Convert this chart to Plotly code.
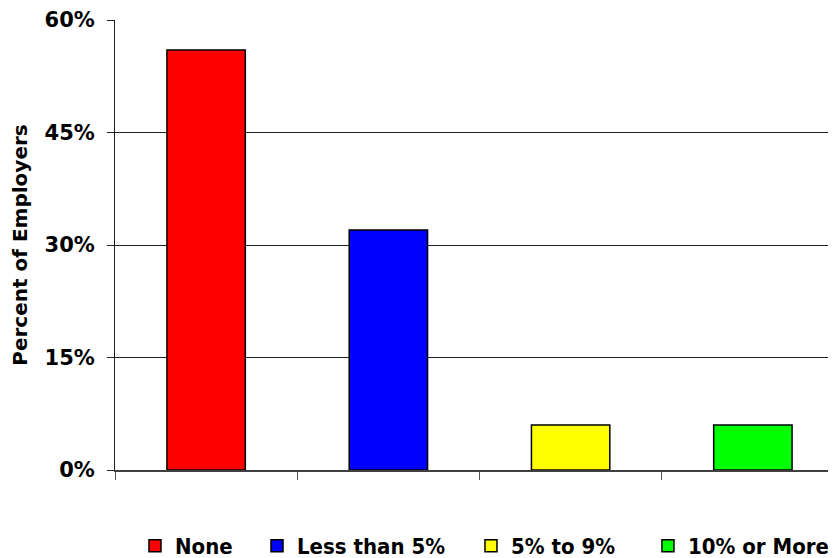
import plotly.graph_objects as go

categories = ["None", "Less than 5%", "5% to 9%", "10% or More"]
values = [56, 32, 6, 6]
colors = ["#ff0000", "#0000ff", "#ffff00", "#00ff00"]
y_ticks = [0, 15, 30, 45, 60]
y_tick_labels = ["0%", "15%", "30%", "45%", "60%"]

legend_names = ["legend", "legend2", "legend3", "legend4"]
legend_x = [0.0274, 0.1948, 0.4883, 0.7311]

fig = go.Figure()
for c, v, col, lg in zip(categories, values, colors, legend_names):
    fig.add_trace(go.Bar(
        x=[c], y=[v], name=c, width=0.43, legend=lg,
        marker=dict(color=col, line=dict(color="black", width=1.5)),
    ))

legend_font = dict(family="DejaVu Sans Condensed", size=22, color="black", weight="bold")
layout_legends = {}
for lg, lx in zip(legend_names, legend_x):
    layout_legends[lg] = dict(
        orientation="h", x=lx, xanchor="left", y=-0.122, yanchor="top",
        font=legend_font, itemwidth=30, bgcolor="rgba(0,0,0,0)",
    )

fig.update_layout(
    width=836, height=558,
    barmode="overlay",
    plot_bgcolor="white", paper_bgcolor="white",
    margin=dict(l=107, r=0, t=12, b=96, autoexpand=False),
    font=dict(family="DejaVu Sans", color="black"),
    showlegend=True,
    **layout_legends,
)
fig.update_xaxes(
    type="category", categoryorder="array", categoryarray=categories,
    range=[-0.5, 3.5], showticklabels=False, automargin=False,
    ticks="outside", tickson="boundaries", ticklen=8, tickcolor="#555555", tickwidth=1,
    showline=True, linecolor="#404040", linewidth=1.5, showgrid=False, zeroline=False,
)
fig.update_yaxes(
    range=[0, 60], tickvals=y_ticks, ticktext=y_tick_labels, automargin=False,
    ticks="outside", ticklen=7, tickcolor="#222222", ticklabelstandoff=8,
    showline=True, linecolor="#222222", linewidth=1,
    showgrid=True, gridcolor="#222222", gridwidth=1, zeroline=False,
    tickfont=dict(family="DejaVu Sans", size=21, color="black", weight="bold"),
    title=dict(text="Percent of Employers", standoff=12,
               font=dict(family="DejaVu Sans", size=20, color="black", weight="bold")),
)

fig.write_html("out.html")
